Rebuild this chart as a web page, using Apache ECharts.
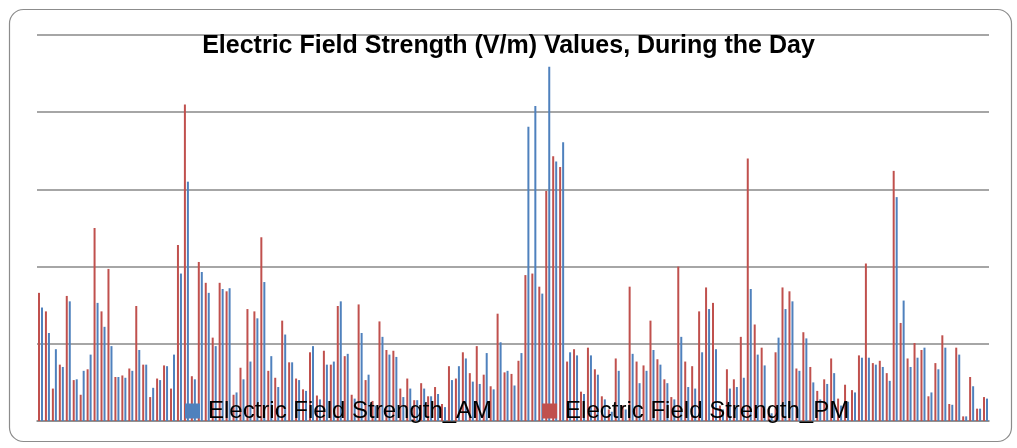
<!DOCTYPE html>
<html lang="en">
<head>
    <meta charset="UTF-8"/>
    <title>Electric Field Strength</title>
    <script src="https://cdn.jsdelivr.net/npm/echarts@6/dist/echarts.min.js"></script>
    <style>
        html, body { margin: 0; padding: 0; background: #fff; }
        #chart { width: 1017px; height: 448px; }
    </style>
</head>
<body>
<div id="chart"></div>
<script type="text/javascript">
    // values, one pair per reading
    var pmValues = [
        1.66, 1.42, 0.42, 0.73, 1.62, 0.53, 0.34, 0.67, 2.50, 1.42,
        1.97, 0.57, 0.59, 0.68, 1.49, 0.73, 0.31, 0.55, 0.72, 0.42,
        2.28, 4.10, 0.58, 2.06, 1.79, 1.08, 1.79, 1.68, 0.34, 0.69,
        1.45, 1.42, 2.38, 0.65, 0.56, 1.30, 0.76, 0.55, 0.41, 0.89,
        0.33, 0.91, 0.73, 1.49, 0.84, 0.34, 1.51, 0.53, 0.26, 1.29,
        0.92, 0.91, 0.42, 0.55, 0.27, 0.49, 0.32, 0.44, 0.22, 0.71,
        0.55, 0.89, 0.62, 0.97, 0.60, 0.45, 1.39, 0.63, 0.61, 0.78,
        1.89, 1.91, 1.74, 2.98, 3.43, 3.29, 0.77, 0.93, 0.38, 0.95,
        0.67, 0.32, 0.15, 0.81, 0.20, 1.74, 0.77, 0.72, 1.30, 0.80,
        0.54, 0.31, 2.00, 0.77, 0.71, 1.42, 1.73, 1.53, 0.20, 0.67,
        0.54, 1.09, 3.40, 1.25, 0.95, 0.15, 0.89, 1.73, 1.68, 0.68,
        1.15, 0.70, 0.39, 0.54, 0.81, 0.29, 0.47, 0.40, 0.85, 2.04,
        0.75, 0.78, 0.62, 3.24, 1.27, 0.81, 1.01, 0.92, 0.32, 0.75,
        1.11, 0.22, 0.95, 0.06, 0.57, 0.16, 0.31
    ];
    var amValues = [
        1.47, 1.14, 0.93, 0.70, 1.55, 0.54, 0.65, 0.86, 1.53, 1.22,
        0.97, 0.57, 0.56, 0.65, 0.92, 0.73, 0.43, 0.53, 0.71, 0.86,
        1.91, 3.10, 0.54, 1.93, 1.66, 0.97, 1.71, 1.72, 0.37, 0.54,
        0.77, 1.33, 1.80, 0.84, 0.44, 1.12, 0.76, 0.53, 0.39, 0.97,
        0.28, 0.73, 0.77, 1.55, 0.87, 0.29, 1.14, 0.60, 0.20, 1.09,
        0.86, 0.83, 0.31, 0.42, 0.27, 0.42, 0.32, 0.35, 0.18, 0.53,
        0.71, 0.81, 0.51, 0.48, 0.88, 0.41, 1.02, 0.65, 0.46, 0.88,
        3.81, 4.08, 1.65, 4.59, 3.36, 3.61, 0.89, 0.85, 0.35, 0.85,
        0.60, 0.28, 0.12, 0.65, 0.15, 0.87, 0.49, 0.65, 0.92, 0.73,
        0.49, 0.28, 1.09, 0.44, 0.42, 0.89, 1.45, 0.93, 0.15, 0.42,
        0.44, 0.56, 1.71, 0.86, 0.72, 0.10, 1.08, 1.45, 1.55, 0.65,
        1.07, 0.50, 0.28, 0.48, 0.62, 0.20, 0.25, 0.37, 0.82, 0.82,
        0.73, 0.70, 0.52, 2.90, 1.56, 0.70, 0.82, 0.95, 0.37, 0.67,
        0.95, 0.21, 0.86, 0.06, 0.45, 0.16, 0.29
    ];
    // readings have no labels in the picture, so just number them
    var categories = amValues.map(function (v, i) { return String(i + 1); });
    var seriesNames = ['Electric Field Strength_AM', 'Electric Field Strength_PM'];

    var myChart = echarts.init(document.getElementById('chart'));
    var option = {
        backgroundColor: '#fff',
        animation: false,
        title: {
            text: 'Electric Field Strength (V/m) Values, During the Day',
            left: 'center',
            top: 29,
            textStyle: {
                fontFamily: 'Liberation Sans',
                fontWeight: 'bold',
                fontSize: 25,
                color: '#000'
            }
        },
        legend: {
            data: seriesNames,
            left: 180,
            top: 394,
            itemWidth: 15,
            itemHeight: 15,
            itemGap: 50,
            icon: 'rect',
            textStyle: {
                fontFamily: 'Liberation Sans',
                fontSize: 24,
                color: '#000',
                padding: [0, 0, 0, 3]
            }
        },
        graphic: [{
            type: 'rect',
            left: 7,
            top: 7,
            shape: {width: 1002, height: 432, r: 14},
            style: {fill: 'none', stroke: '#8c8c8c', lineWidth: 1.2},
            z: 0
        }],
        grid: {left: 37, right: 28, top: 35, bottom: 27},
        xAxis: {
            type: 'category',
            data: categories,
            axisLine: {show: true, lineStyle: {color: '#898989', width: 1.6}},
            axisTick: {show: false},
            axisLabel: {show: false}
        },
        yAxis: {
            type: 'value',
            min: 0,
            max: 5,
            interval: 1,
            axisLine: {show: false},
            axisTick: {show: false},
            axisLabel: {show: false},
            splitLine: {lineStyle: {color: '#898989', width: 1.6}}
        },
        series: [
            {
                // PM bar sits on the left of each pair in the picture
                name: seriesNames[1],
                type: 'bar',
                data: pmValues,
                barWidth: 2,
                barGap: '50%',
                itemStyle: {color: '#C0504D'}
            },
            {
                name: seriesNames[0],
                type: 'bar',
                data: amValues,
                barWidth: 2,
                barGap: '50%',
                itemStyle: {color: '#4F81BD'}
            }
        ]
    };
    myChart.setOption(option);
</script>
</body>
</html>
